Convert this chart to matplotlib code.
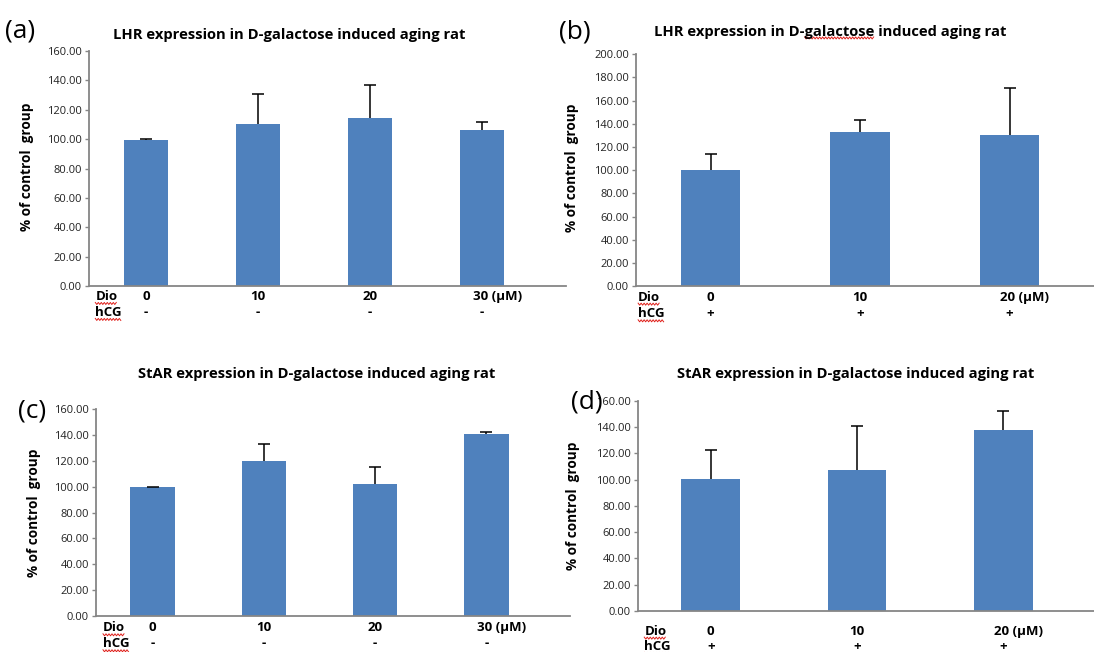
import matplotlib.pyplot as plt
import numpy as np
from matplotlib.lines import Line2D

plt.rcParams['font.family'] = ['Open Sans', 'DejaVu Sans']

# ---- data ----
dio_a = ['0', '10', '20', '30']
hcg_a = ['-', '-', '-', '-']
lhr_a = [99.6, 110.0, 114.2, 106.0]
lhr_a_err = [0.4, 21.0, 23.0, 5.8]

dio_b = ['0', '10', '20']
hcg_b = ['+', '+', '+']
lhr_b = [100.2, 133.2, 130.7]
lhr_b_err = [13.5, 10.1, 40.5]

dio_c = ['0', '10', '20', '30']
hcg_c = ['-', '-', '-', '-']
star_c = [99.6, 120.0, 102.3, 140.4]
star_c_err = [0.4, 12.9, 12.9, 2.1]

dio_d = ['0', '10', '20']
hcg_d = ['+', '+', '+']
star_d = [100.2, 107.3, 138.0]
star_d_err = [22.1, 33.7, 13.8]

BLUE = '#4F81BD'
GRAY = '#868686'
LBL = 9.5

fig = plt.figure(figsize=(10.94, 6.52), dpi=100)
wavy_targets = []


def panel(rect, vals, errs, dio, hcg, ymax, xlim, dio_pad, rows_dy):
    ax = fig.add_axes(rect)
    x = np.arange(len(vals))
    ax.bar(x, vals, width=0.40, color=BLUE, zorder=2)
    eb = ax.errorbar(x, vals, yerr=[np.zeros(len(errs)), errs], fmt='none',
                     ecolor='black', elinewidth=1.1, capsize=4, capthick=1.1, zorder=3)
    # only the upper cap, like the spreadsheet plot
    eb[1][0].set_visible(False)
    ax.set_xlim(*xlim)
    ax.set_ylim(0, ymax)
    ax.set_yticks(np.arange(0, ymax + 1, 20))
    ax.set_yticklabels([f'{v:.2f}' for v in np.arange(0, ymax + 1, 20)])
    ax.set_xticks([])
    for s in ['top', 'right']:
        ax.spines[s].set_visible(False)
    for s in ['left', 'bottom']:
        ax.spines[s].set_color(GRAY)
        ax.spines[s].set_linewidth(1.3)
    ax.tick_params(axis='y', length=3, width=1, color=GRAY, labelsize=8,
                   labelcolor='#222222', pad=2)

    d1, d2 = rows_dy
    t = ax.annotate('Dio', xy=(0, 0), xycoords='axes fraction', xytext=(dio_pad, -d1),
                    textcoords='offset points', ha='left', va='center',
                    fontsize=LBL, fontweight='bold')
    wavy_targets.append(t)
    t = ax.annotate('hCG', xy=(0, 0), xycoords='axes fraction', xytext=(dio_pad, -d2),
                    textcoords='offset points', ha='left', va='center',
                    fontsize=LBL, fontweight='bold')
    wavy_targets.append(t)
    for i, (dv, hv) in enumerate(zip(dio, hcg)):
        if i == len(dio) - 1:
            ax.annotate(dv + ' (\u03bcM)', xy=(i, 0), xycoords=('data', 'axes fraction'),
                        xytext=(-6.5, -d1), textcoords='offset points',
                        ha='left', va='center', fontsize=LBL, fontweight='bold')
        else:
            ax.annotate(dv, xy=(i, 0), xycoords=('data', 'axes fraction'),
                        xytext=(0, -d1), textcoords='offset points',
                        ha='center', va='center', fontsize=LBL, fontweight='bold')
        ax.annotate(hv, xy=(i, 0), xycoords=('data', 'axes fraction'),
                    xytext=(0, -d2), textcoords='offset points',
                    ha='center', va='center', fontsize=LBL, fontweight='bold')
    return ax


ax_a = panel([0.0814, 0.5613, 0.436, 0.3604], lhr_a, lhr_a_err, dio_a, hcg_a,
             160, (-0.509, 3.75), 4.5, (7.5, 19))
ax_b = panel([0.5814, 0.5613, 0.4186, 0.3554], lhr_b, lhr_b_err, dio_b, hcg_b,
             200, (-0.498, 2.565), 1.5, (8, 20))
ax_c = panel([0.0878, 0.0552, 0.4333, 0.3175], star_c, star_c_err, dio_c, hcg_c,
             160, (-0.508, 3.751), 5, (8.5, 20))
ax_d = panel([0.5832, 0.0629, 0.4168, 0.3225], star_d, star_d_err, dio_d, hcg_d,
             160, (-0.497, 2.62), 4.5, (14.5, 25.5))

TFS = 10.6
title_lhr = 'LHR expression in D-galactose induced aging rat'
title_star = 'StAR expression in D-galactose induced aging rat'
tkw = dict(ha='center', va='center', fontsize=TFS, fontweight='bold')
fig.text(0.264, 0.946, title_lhr, **tkw)
tb = fig.text(0.759, 0.951, title_lhr, **tkw)
fig.text(0.289, 0.426, title_star, **tkw)
fig.text(0.782, 0.426, title_star, **tkw)

ykw = dict(rotation=90, ha='center', va='center', fontsize=9.8, fontweight='bold')
ylab = '% of control  group'
fig.text(0.0247, 0.744, ylab, **ykw)
fig.text(0.5226, 0.742, ylab, **ykw)
fig.text(0.0314, 0.214, ylab, **ykw)
fig.text(0.5238, 0.224, ylab, **ykw)

pkw = dict(ha='left', va='center', fontsize=19)
fig.text(0.005, 0.953, '(a)', **pkw)
fig.text(0.511, 0.951, '(b)', **pkw)
fig.text(0.016, 0.369, '(c)', **pkw)
fig.text(0.5215, 0.384, '(d)', **pkw)

# red spell-check squiggles under Dio / hCG and "galactose"
fig.canvas.draw()
renderer = fig.canvas.get_renderer()
inv = fig.transFigure.inverted()


def squiggle(x0, x1, y):
    xs = np.arange(x0, x1 + 0.1, 1.5)
    ys = y + np.where(np.arange(len(xs)) % 2 == 0, 1.0, -1.0)
    pts = inv.transform(np.column_stack([xs, ys]))
    fig.add_artist(Line2D(pts[:, 0], pts[:, 1], color='#E0201B', lw=0.7,
                          transform=fig.transFigure))


for t in wavy_targets:
    bb = t.get_window_extent(renderer)
    squiggle(bb.x0, bb.x1, bb.y0 - 0.5)

bb = tb.get_window_extent(renderer)
pre = fig.text(0, 0, 'LHR expression in D-', fontsize=TFS, fontweight='bold')
word = fig.text(0, 0, 'galactose', fontsize=TFS, fontweight='bold')
wp = pre.get_window_extent(renderer).width
ww = word.get_window_extent(renderer).width
pre.remove()
word.remove()
squiggle(bb.x0 + wp, bb.x0 + wp + ww, bb.y0 + 1)

fig.savefig('out.png', dpi=100)
